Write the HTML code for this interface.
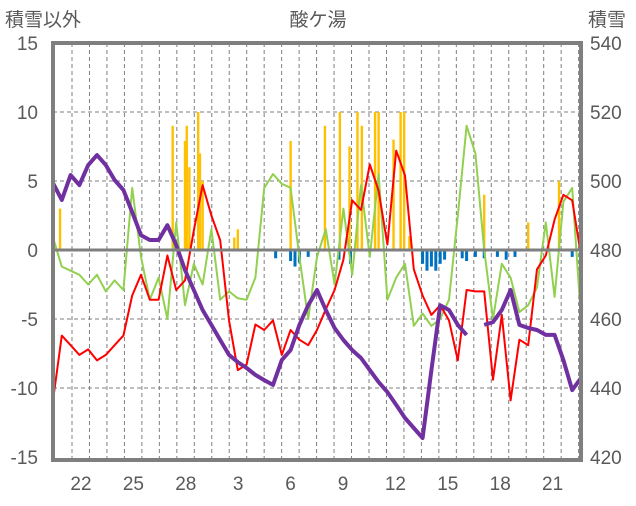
<!DOCTYPE html>
<html><head><meta charset="utf-8">
<style>
body{margin:0;background:#fff;}
svg text{font-family:"Liberation Sans","Noto Sans CJK JP",sans-serif;fill:#595959;}
</style></head>
<body>
<svg id="chart" width="636" height="501" viewBox="0 0 636 501" xmlns="http://www.w3.org/2000/svg">
<text x="318" y="26" font-size="19" text-anchor="middle">酸ケ湯</text>
<text x="5" y="26" font-size="19">積雪以外</text>
<text x="588" y="26" font-size="19">積雪</text>
<g id="grid"></g>
<g id="bars"></g>
<g id="lines"></g>
<g id="axes"></g>
</svg>
<script>
const leftTicks=[15,10,5,0,-5,-10,-15];
const rightTicks=[540,520,500,480,460,440,420];
const dayLabels=["22","25","28","3","6","9","12","15","18","21"];
const redSeries=[-10.9,-6.2,-6.9,-7.6,-7.2,-8,-7.6,-6.9,-6.2,-3.3,-1.8,-3.6,-3.6,-0.4,-2.9,-2.2,1.4,4.7,2.5,0.7,-5.1,-8.7,-8.3,-5.4,-5.8,-5.1,-7.6,-5.8,-6.5,-6.9,-5.8,-4.3,-2.9,-0.7,3.6,2.9,6.2,4.3,0.4,7.2,5.4,-1.4,-3.3,-4.7,-4,-5.1,-8,-2.9,-3,-3,-9.4,-4.7,-10.9,-6.5,-6.9,-1.4,-0.4,2.2,4,3.6,-0.4];
const greenSeries=[0.9,-1.2,-1.5,-1.8,-2.5,-1.8,-3,-2.2,-2.9,4.5,-0.5,-3.6,-2,-5,2,-4,-1,-2.5,1.5,-3.6,-3,-3.5,-3.6,-2,4.5,5.5,4.8,4.5,-0.5,-5,-0.5,1.5,-2.5,3,-1.8,4.7,-0.5,5.5,-3.6,-2,-1,-5.5,-4.6,-5.5,-5,-3.6,2.5,9,7,0,-5,-1,-2,-4.5,-4,-2.7,2,-3.4,3.5,4.5,-5];
const purpleSeries=[499.4,494.5,501.7,498.8,504.6,507.5,504.6,500.3,497.4,491,484.3,482.9,482.9,487.2,481.4,474.2,468.4,462.6,458.3,453.9,449.6,447.5,445.8,443.8,442.3,440.9,448.1,451,458.3,464,468.4,462.6,457.4,453.9,451,448.7,445.2,441.7,438.8,435.1,431.3,428.4,425.5,445.2,464,462.6,458.3,455.4,null,458.3,459.1,462.6,468.4,458.3,457.4,456.8,455.4,455.4,448.1,439.4,442.9];
const yellowPos=[0.8,13.6,15,15.2,15.5,16.5,16.7,17,20.6,21,27,30.9,32.6,33.7,34.6,35.1,36.6,37,38.7,39.5,39.9,40.5,49,54,57.5];
const yellowVal=[3,9,7.9,9,6,10,7,5,0.9,1.5,7.9,9,10,7.5,10,9,10,10,8,10,10,1,4,2,5];
const bluePos=[25.3,27,27.5,28,29,32.5,33.8,42,42.5,43,43.5,44,44.5,46.5,47,48,49,50.5,51.5,52.5,59];
const blueVal=[-0.6,-0.8,-1.2,-0.9,-0.5,-0.7,-1,-1,-1.5,-1.2,-1.5,-1,-0.7,-0.6,-0.8,-0.5,-0.6,-0.5,-0.7,-0.5,-0.5];

const NS="http://www.w3.org/2000/svg";
const X0=53,X1=581,Y0=43,Y1=457;
const xk=k=>X0+k*8.8;
const yL=v=>250-v*13.8;
const yR=v=>250-(v-480)*3.45;
function mk(tag,attrs,parent){const e=document.createElementNS(NS,tag);for(const a in attrs)e.setAttribute(a,attrs[a]);parent.appendChild(e);return e;}
const grid=document.getElementById('grid'),bars=document.getElementById('bars'),lines=document.getElementById('lines'),axes=document.getElementById('axes');

for(let i=0;i<30;i++){const x=72+i*17.47;if(x>X1-2)break;
 const l=mk('line',{x1:x,x2:x,y1:Y0,y2:460,stroke:'#7f7f7f','stroke-width':1,'stroke-dasharray':'4,3'},grid);
 
 }
leftTicks.forEach(v=>{
 if(v!==0&&v!==15&&v!==-15){const l=mk('line',{x1:X0,x2:X1,y1:yL(v),y2:yL(v),stroke:'#7f7f7f','stroke-width':1,'stroke-dasharray':'4,3'},grid);
 
 }
 const t=mk('text',{x:38,y:yL(v)+7,'font-size':19,'text-anchor':'end'},axes);t.textContent=v;
 
 
});
rightTicks.forEach(v=>{const t=mk('text',{x:590,y:yR(v)+7,'font-size':19},axes);t.textContent=v;
 
 });
dayLabels.forEach((d,i)=>{const t=mk('text',{x:81+i*52.4,y:490,'font-size':19,'text-anchor':'middle'},axes);t.textContent=d;
 
 });

yellowPos.forEach((p,i)=>{const y=yL(yellowVal[i]);const r=mk('rect',{x:xk(p)-1.2,y:y,width:2.4,height:250-y,fill:'#ffc000'},bars);
 
 });
bluePos.forEach((p,i)=>{const y=yL(blueVal[i]);const r=mk('rect',{x:xk(p)-1.5,y:250,width:3,height:y-250,fill:'#0070c0'},bars);
 
 });

const zl=mk('line',{x1:X0,x2:X1,y1:250,y2:250,stroke:'#7f7f7f','stroke-width':3},axes);



function path(arr,yf,color,w,name){let d='',pen=false;
 arr.forEach((v,k)=>{if(v===null){pen=false;return;}d+=(pen?'L':'M')+xk(k).toFixed(1)+','+yf(v).toFixed(1);pen=true;});
 const p=mk('path',{d:d,fill:'none',stroke:color,'stroke-width':w,'stroke-linejoin':'round'},lines);
 
 }
path(greenSeries,yL,'#92d050',2,'green-series-line');
path(redSeries,yL,'#ff0000',2,'red-series-line');
path(purpleSeries,yR,'#7030a0',4,'snow-depth-line');

const b=mk('rect',{x:X0,y:Y0,width:X1-X0,height:460-Y0,fill:'none',stroke:'#7f7f7f','stroke-width':4},axes);


</script>
</body></html>
